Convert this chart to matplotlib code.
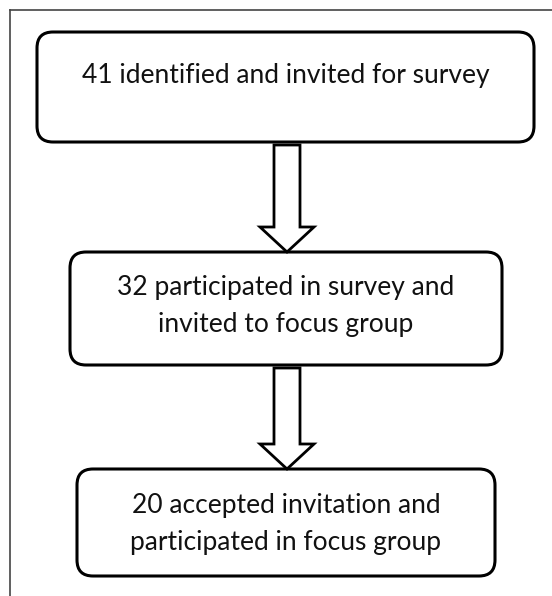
import matplotlib.pyplot as plt
from matplotlib.patches import FancyBboxPatch, Polygon

# Flowchart content
counts = [41, 32, 20]
labels = [
    "identified and invited for survey",
    "participated in survey and\ninvited to focus group",
    "accepted invitation and\nparticipated in focus group",
]

# Layout in pixels (x0, y0, x1, y1), y grows downwards
boxes = [(37, 32, 534, 142), (70, 252, 502, 365), (77, 469, 495, 576)]
text_y = [75, 306, 524]

W, H = 552, 596
fig = plt.figure(figsize=(W / 100, H / 100), dpi=100)
ax = fig.add_axes([0, 0, 1, 1])
ax.set_xlim(0, W)
ax.set_ylim(H, 0)
ax.axis("off")

# outer frame (only top and left visible)
ax.plot([9.5, W], [9.5, 9.5], color="#444444", lw=1.2)
ax.plot([9.5, 9.5], [9.5, H], color="#444444", lw=1.2)

for (x0, y0, x1, y1), n, lab, ty in zip(boxes, counts, labels, text_y):
    r = 16
    box = FancyBboxPatch((x0 + r, y0 + r), (x1 - x0) - 2 * r, (y1 - y0) - 2 * r,
                         boxstyle="round,pad=%d" % r, fc="white", ec="black", lw=2.2)
    ax.add_patch(box)
    ax.text((x0 + x1) / 2, ty, f"{n} {lab}", ha="center", va="center",
            fontsize=19, family="Lato", linespacing=1.56, color="#111111")

# block arrows between boxes
for i in range(len(boxes) - 1):
    top = boxes[i][3] + 3
    tip = boxes[i + 1][1]
    cx = 287
    hw, sw = 27, 13
    head = tip - 25
    pts = [(cx - sw, top), (cx + sw, top), (cx + sw, head), (cx + hw, head),
           (cx, tip), (cx - hw, head), (cx - sw, head)]
    ax.add_patch(Polygon(pts, closed=True, fc="white", ec="black", lw=2.0,
                         joinstyle="miter"))

fig.savefig("out.png", dpi=100)
